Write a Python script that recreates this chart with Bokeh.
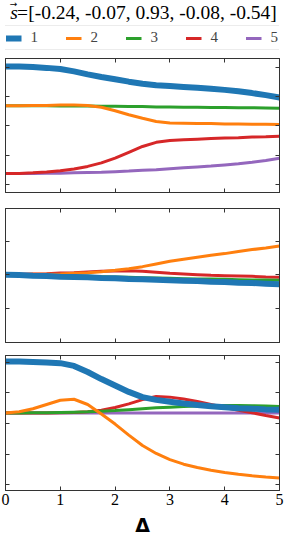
from bokeh.plotting import figure
from bokeh.models import Range1d, LinearAxis, FixedTicker, Legend, LegendItem, Label
from bokeh.layouts import column
from bokeh.embed import file_html
from bokeh.resources import INLINE

# ---------------- data ----------------
delta = [0.0, 0.25, 0.5, 0.75, 1.0, 1.25, 1.5, 1.75, 2.0, 2.25, 2.5,
         2.75, 3.0, 3.25, 3.5, 3.75, 4.0, 4.25, 4.5, 4.75, 5.0]

series_names = ["1", "2", "3", "4", "5"]
series_colors = ["#1f77b4", "#ff7f0e", "#2ca02c", "#d62728", "#9467bd"]

s_vector = [-0.24, -0.07, 0.93, -0.08, -0.54]
title_symbol = "s"
title_arrow = "\u2192"
title_equals = "="
title_values = "[" + ", ".join(f"{v:.2f}" for v in s_vector) + "]"

# panel 1
p1_s1 = [4.03, 4.03, 4.01, 3.98, 3.94, 3.86, 3.76, 3.67, 3.59, 3.51, 3.44,
         3.39, 3.36, 3.33, 3.30, 3.27, 3.23, 3.18, 3.12, 3.05, 2.97]
p1_s2 = [2.69, 2.69, 2.70, 2.70, 2.71, 2.71, 2.70, 2.64, 2.52, 2.38, 2.26,
         2.15, 2.10, 2.09, 2.08, 2.08, 2.07, 2.07, 2.06, 2.06, 2.05]
p1_s3 = [2.69, 2.69, 2.69, 2.69, 2.68, 2.68, 2.68, 2.67, 2.67, 2.66, 2.66,
         2.65, 2.65, 2.64, 2.64, 2.63, 2.63, 2.62, 2.62, 2.61, 2.60]
p1_s4 = [0.375, 0.38, 0.40, 0.43, 0.47, 0.53, 0.62, 0.74, 0.90, 1.10, 1.30,
         1.44, 1.50, 1.53, 1.55, 1.57, 1.59, 1.60, 1.62, 1.63, 1.65]
p1_s5 = [0.375, 0.375, 0.38, 0.385, 0.39, 0.40, 0.41, 0.42, 0.44, 0.46, 0.49,
         0.51, 0.54, 0.57, 0.60, 0.63, 0.67, 0.71, 0.76, 0.82, 0.90]

# panel 2
p2_s1 = [0.0, -0.01, -0.03, -0.04, -0.06, -0.07, -0.08, -0.10, -0.11, -0.13, -0.14,
         -0.15, -0.17, -0.18, -0.19, -0.21, -0.22, -0.24, -0.25, -0.27, -0.29]
p2_s2 = [0.0, 0.0, 0.01, 0.01, 0.02, 0.04, 0.06, 0.09, 0.13, 0.18, 0.24,
         0.32, 0.40, 0.46, 0.52, 0.58, 0.63, 0.69, 0.75, 0.80, 0.86]
p2_s3 = [0.0, -0.01, -0.02, -0.03, -0.04, -0.04, -0.05, -0.06, -0.07, -0.08, -0.09,
         -0.10, -0.11, -0.12, -0.13, -0.13, -0.14, -0.15, -0.16, -0.16, -0.17]
p2_s4 = [0.0, 0.01, 0.02, 0.03, 0.05, 0.06, 0.08, 0.10, 0.11, 0.12, 0.10,
         0.07, 0.04, 0.02, 0.0, -0.02, -0.03, -0.04, -0.05, -0.07, -0.08]
p2_s5 = [0.0, -0.02, -0.04, -0.05, -0.07, -0.08, -0.10, -0.11, -0.13, -0.14, -0.16,
         -0.17, -0.19, -0.20, -0.21, -0.22, -0.23, -0.24, -0.25, -0.26, -0.28]

# panel 3
p3_s1 = [4.02, 4.02, 4.01, 3.99, 3.97, 3.88, 3.68, 3.45, 3.24, 3.03, 2.86,
         2.77, 2.71, 2.65, 2.60, 2.56, 2.53, 2.50, 2.48, 2.46, 2.45]
p3_s2 = [2.34, 2.38, 2.48, 2.62, 2.76, 2.79, 2.62, 2.31, 1.98, 1.62, 1.28,
         1.02, 0.82, 0.67, 0.56, 0.47, 0.40, 0.34, 0.29, 0.25, 0.22]
p3_s3 = [2.34, 2.34, 2.35, 2.35, 2.36, 2.37, 2.38, 2.40, 2.42, 2.45, 2.48,
         2.51, 2.53, 2.55, 2.57, 2.58, 2.59, 2.59, 2.58, 2.57, 2.55]
p3_s4 = [2.34, 2.34, 2.34, 2.34, 2.35, 2.36, 2.38, 2.43, 2.52, 2.64, 2.78,
         2.88, 2.86, 2.80, 2.72, 2.62, 2.52, 2.43, 2.35, 2.26, 2.18]
p3_s5 = [2.34, 2.34, 2.34, 2.34, 2.34, 2.34, 2.34, 2.34, 2.34, 2.34, 2.34,
         2.34, 2.34, 2.34, 2.34, 2.34, 2.34, 2.34, 2.34, 2.34, 2.34]

x_ticks = [0, 1, 2, 3, 4, 5]
p1_yticks = [0, 1, 2, 3, 4]
p2_yticks = [-1, 0, 1]
p3_yticks = [0, 1, 2, 3, 4]

p1_yrange = (-0.27, 4.3)
p2_yrange = (-2.03, 1.98)
p3_yrange = (-0.19, 4.22)

# ---------------- styling ----------------
SERIF = "Liberation Serif"
FRAME = "#333333"
W = 284
HEAD_H = 52


def make_panel(height, yr, yticks, mb_top, mb_bottom):
    p = figure(width=W, height=height, output_backend="svg", toolbar_location=None,
               x_range=Range1d(0, 5), y_range=Range1d(*yr),
               min_border_left=5, min_border_right=5,
               min_border_top=mb_top, min_border_bottom=mb_bottom,
               background_fill_color="white", border_fill_color="white")
    p.title = None
    p.grid.visible = False
    p.outline_line_color = FRAME
    p.outline_line_width = 1
    top_ax = LinearAxis()
    right_ax = LinearAxis()
    p.add_layout(top_ax, "above")
    p.add_layout(right_ax, "right")
    for ax in (p.xaxis + [top_ax]):
        ax.ticker = FixedTicker(ticks=x_ticks)
    for ax in (p.yaxis + [right_ax]):
        ax.ticker = FixedTicker(ticks=yticks)
    for ax in p.axis:
        ax.axis_line_color = FRAME
        ax.major_tick_line_color = FRAME
        ax.major_tick_in = 4
        ax.major_tick_out = 0
        ax.minor_tick_line_color = None
        ax.major_label_text_font_size = "1px"
        ax.major_label_text_color = None
        ax.major_label_standoff = 0
    return p


def draw(p, ys, visible=True):
    rs = {}
    for i in [4, 3, 2, 1, 0]:
        lw = 6 if i == 0 else 3
        rs[i] = p.line(delta, ys[i], line_color=series_colors[i], line_width=lw,
                       visible=visible)
    return rs


# header: title + legend (data units of the header equal pixels, y upwards)
head = figure(width=W, height=HEAD_H, output_backend="svg", toolbar_location=None,
              x_range=Range1d(0, W), y_range=Range1d(0, HEAD_H),
              x_axis_type=None, y_axis_type=None,
              min_border_left=0, min_border_right=0, min_border_top=0, min_border_bottom=0,
              outline_line_color=None, background_fill_color=None,
              border_fill_color=None)
head.title = None
head.grid.visible = False

hrs = draw(head, [p1_s1, p1_s2, p1_s3, p1_s4, p1_s5], visible=False)
legend = Legend(items=[LegendItem(label=series_names[i], renderers=[hrs[i]]) for i in range(5)],
                orientation="horizontal", location="bottom_center",
                label_text_font=SERIF, label_text_font_size="15px",
                glyph_width=16, glyph_height=12, label_standoff=9,
                label_width=8, label_height=12,
                spacing=27, padding=3, margin=2,
                border_line_color="#d9d9d9", border_line_width=1,
                background_fill_alpha=0.0, inactive_fill_alpha=0.0)
head.add_layout(legend, "center")

TITLE_Y = HEAD_H - 12
head.add_layout(Label(x=5, y=TITLE_Y, text=title_symbol, text_font=SERIF,
                      text_font_size="19.5px", text_font_style="italic",
                      text_color="black", text_baseline="middle", text_align="left"))
head.add_layout(Label(x=4.5, y=HEAD_H - 3.5, text=title_arrow, text_font="DejaVu Sans",
                      text_font_size="9px", text_color="black",
                      text_baseline="middle", text_align="left"))
head.add_layout(Label(x=12, y=TITLE_Y, text=title_equals, text_font=SERIF,
                      text_font_size="19.5px", text_color="black",
                      text_baseline="middle", text_align="left"))
head.add_layout(Label(x=23.5, y=TITLE_Y, text=title_values, text_font=SERIF,
                      text_font_size="19.5px", text_color="black",
                      text_baseline="middle", text_align="left"))

# panel 1
p1 = make_panel(148, p1_yrange, p1_yticks, 6, 8)
draw(p1, [p1_s1, p1_s2, p1_s3, p1_s4, p1_s5])

# panel 2
p2 = make_panel(148, p2_yrange, p2_yticks, 8, 6)
draw(p2, [p2_s1, p2_s2, p2_s3, p2_s4, p2_s5])

# panel 3
p3 = make_panel(190, p3_yrange, p3_yticks, 7, 0)
draw(p3, [p3_s1, p3_s2, p3_s3, p3_s4, p3_s5])
bx = p3.below[0]
bx.major_label_text_font_size = "16px"
bx.major_label_text_font = SERIF
bx.major_label_text_color = "black"
bx.major_label_standoff = 3
bx.axis_label = "\u0394"
bx.axis_label_text_font = "DejaVu Sans"
bx.axis_label_text_font_style = "bold"
bx.axis_label_text_font_size = "19px"
bx.axis_label_text_color = "black"
bx.axis_label_standoff = 6

layout = column(head, p1, p2, p3, spacing=0)
open("out.html", "w").write(file_html(layout, INLINE))
